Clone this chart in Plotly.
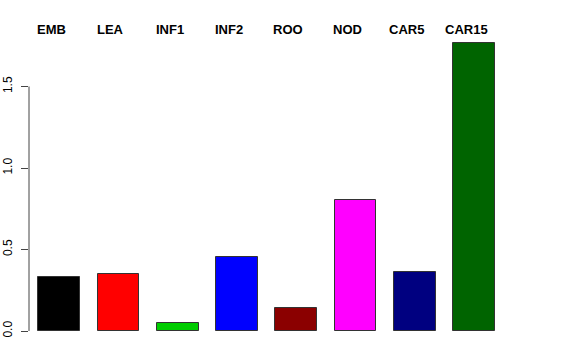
import plotly.graph_objects as go

categories = ["EMB", "LEA", "INF1", "INF2", "ROO", "NOD", "CAR5", "CAR15"]
values = [0.329, 0.352, 0.051, 0.452, 0.139, 0.806, 0.362, 1.769]
colors = ["#000000", "#FF0000", "#00CD00", "#0000FF", "#8B0000", "#FF00FF", "#000080", "#006400"]
y_ticks = [0.0, 0.5, 1.0, 1.5]
y_tick_labels = ["0.0", "0.5", "1.0", "1.5"]

xs = list(range(len(categories)))
y_range = [-0.0552, 1.908]

def ypaper(v):
    return (v - y_range[0]) / (y_range[1] - y_range[0])

fig = go.Figure()
fig.add_trace(go.Bar(
    x=xs, y=values, width=0.704,
    marker=dict(color=colors, line=dict(color="#333333", width=1)),
    hoverinfo="skip", showlegend=False,
))

for i, c in enumerate(categories):
    fig.add_annotation(x=i, y=1.847, text="<b>%s</b>" % c, showarrow=False,
                       xshift=-8, yanchor="middle", xanchor="center",
                       font=dict(family="Liberation Sans, Arial, sans-serif", size=13, color="black"))

fig.add_shape(type="line", xref="paper", yref="paper", x0=0, x1=0,
              y0=ypaper(y_ticks[0]), y1=ypaper(y_ticks[-1]),
              line=dict(color="#444444", width=1))

fig.update_layout(
    width=576, height=360,
    margin=dict(l=29, r=63, t=20, b=20),
    plot_bgcolor="white", paper_bgcolor="white",
    bargap=0,
    xaxis=dict(range=[-0.511, 7.657], visible=False, fixedrange=True, automargin=False),
    yaxis=dict(range=y_range, tickmode="array", tickvals=y_ticks, ticktext=y_tick_labels,
               ticks="outside", ticklen=7, tickcolor="#444444", tickwidth=1,
               tickangle=-90, showgrid=False, zeroline=False, showline=False,
               ticklabelstandoff=4, automargin=False,
               tickfont=dict(family="Liberation Sans, Arial, sans-serif", size=12, color="black")),
)

fig.write_html("out.html", config={"displayModeBar": False},
               post_script="document.body.style.margin='0';document.body.style.overflow='hidden';")
